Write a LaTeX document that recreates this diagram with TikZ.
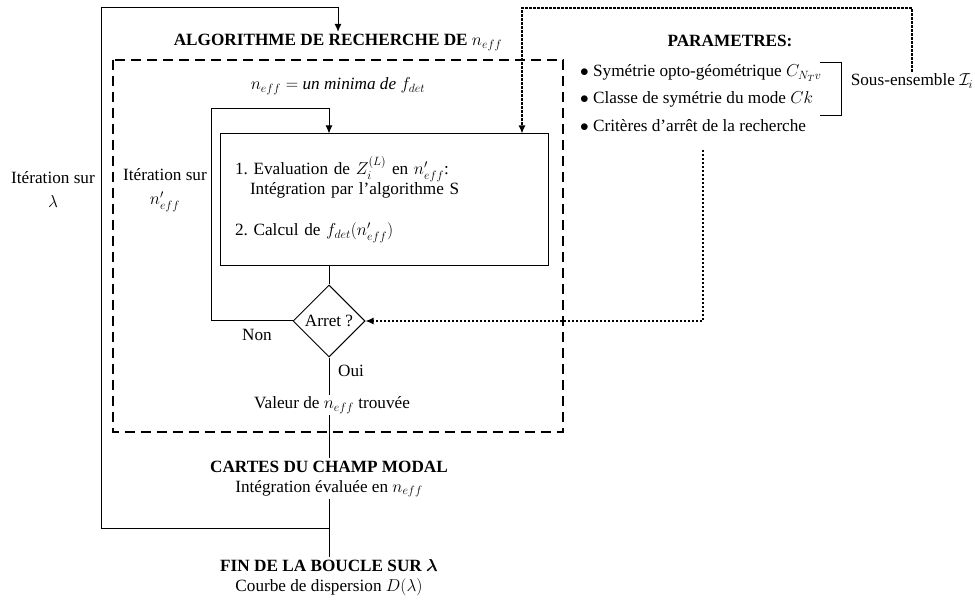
\documentclass[tikz,border=0pt]{standalone}
\usepackage{fontspec}
\setmainfont{Liberation Serif}
\usepackage{amsmath}
\usepackage{amssymb}
\usetikzlibrary{shapes.geometric,arrows.meta,positioning}
\frenchspacing

\begin{document}
\begin{tikzpicture}[
  x=1pt,y=-1pt,
  font=\fontsize{17.2}{19}\selectfont,
  lbl/.style={inner sep=2pt,text height=12pt,text depth=4pt},
  ttl/.style={lbl,font=\fontsize{17.2}{19}\selectfont\bfseries},
  calcbox/.style={rectangle,draw,line width=1pt,minimum width=328pt,minimum height=132pt,
    text width=298pt,inner xsep=15pt,align=left},
  test/.style={diamond,draw,line width=1pt,minimum width=72pt,minimum height=72pt,inner sep=0pt},
  iter/.style={align=center,inner sep=2pt},
  ln/.style={line width=1pt},
  arr/.style={-{Latex[length=8pt,width=7pt]},line width=1pt},
  darr/.style={-{Latex[length=8pt,width=7pt]},line width=1.3pt,dash pattern=on 2.5pt off 1.5pt},
  zone/.style={line width=1.6pt,dash pattern=on 10pt off 6pt}
]
\useasboundingbox (0,0) rectangle (975,601);

% boucle sur n_eff
\draw[zone] (113,60) rectangle (563,432);

\node[ttl] (algo) at (338,42) {ALGORITHME DE RECHERCHE DE $n_{eff}$};
\node[lbl] (mini) at (338,86) {$n_{eff}=$ \textit{un minima de} $f_{det}$};
\node[calcbox] (calc) at (384,200) {1. Evaluation de $Z_i^{(L)}$ en $n'_{eff}$:\\
\hspace*{15pt}Intégration par l'algorithme S\\[22pt]
2. Calcul de $f_{det}(n'_{eff})$};
\node[test] (arret) at (329,321) {Arret ?};
\node[lbl] (non) at (257,337) {Non};
\node[lbl] (oui) at (351,373) {Oui};
\node[lbl] (valeur) at (332,405) {Valeur de $n_{eff}$ trouvée};
\node[iter] (itn) at (165,190) {Itération sur\\[5pt]$n'_{eff}$};

% sorties
\node[ttl] (cartes) at (329,468) {CARTES DU CHAMP MODAL};
\node[lbl,below=0pt of cartes] (integ) {Intégration évaluée en $n_{eff}$};
\node[ttl] (fin) at (329,567) {FIN DE LA BOUCLE SUR $\boldsymbol{\lambda}$};
\node[lbl,below=0pt of fin] (courbe) {Courbe de dispersion $D(\lambda)$};
\node[iter] (itl) at (53,190) {Itération sur\\[5pt]$\lambda$};

% parametres
\node[ttl] (param) at (730,43) {PARAMETRES:};
\node[lbl,anchor=west] (p1) at (578,73) {$\bullet$ Symétrie opto-géométrique $C_{N_T v}$};
\node[lbl,anchor=west] (p2) at (578,100) {$\bullet$ Classe de symétrie du mode $Ck$};
\node[lbl,anchor=west] (p3) at (578,128) {$\bullet$ Critères d'arrêt de la recherche};
\node[lbl] (sous) at (912,82) {Sous-ensemble $\mathcal{I}_i$};
\draw[ln] (820,63) -- (841,63) -- (841,116) -- (820,116);

\coordinate (inl) at (211,109);
\coordinate (jl) at (329,528);
\coordinate (outl) at (101,8);
\coordinate (crit) at (703,150);
\coordinate (subt) at (522,8);

\draw[ln] (arret |- calc.south) -- (arret);
\draw[ln] (arret) -- (arret |- valeur.north);
\draw[ln] (arret |- valeur.south) -- (cartes);
\draw[ln] (integ) -- (fin);
\draw[arr] (arret.west) -| (inl) -| (arret |- calc.north);
\draw[arr] (jl) -| (outl) -| (algo.north);
\draw[darr] (crit) |- (arret.east);
\draw[darr] (sous.north) |- (subt) -- (subt |- calc.north);
\end{tikzpicture}
\end{document}
